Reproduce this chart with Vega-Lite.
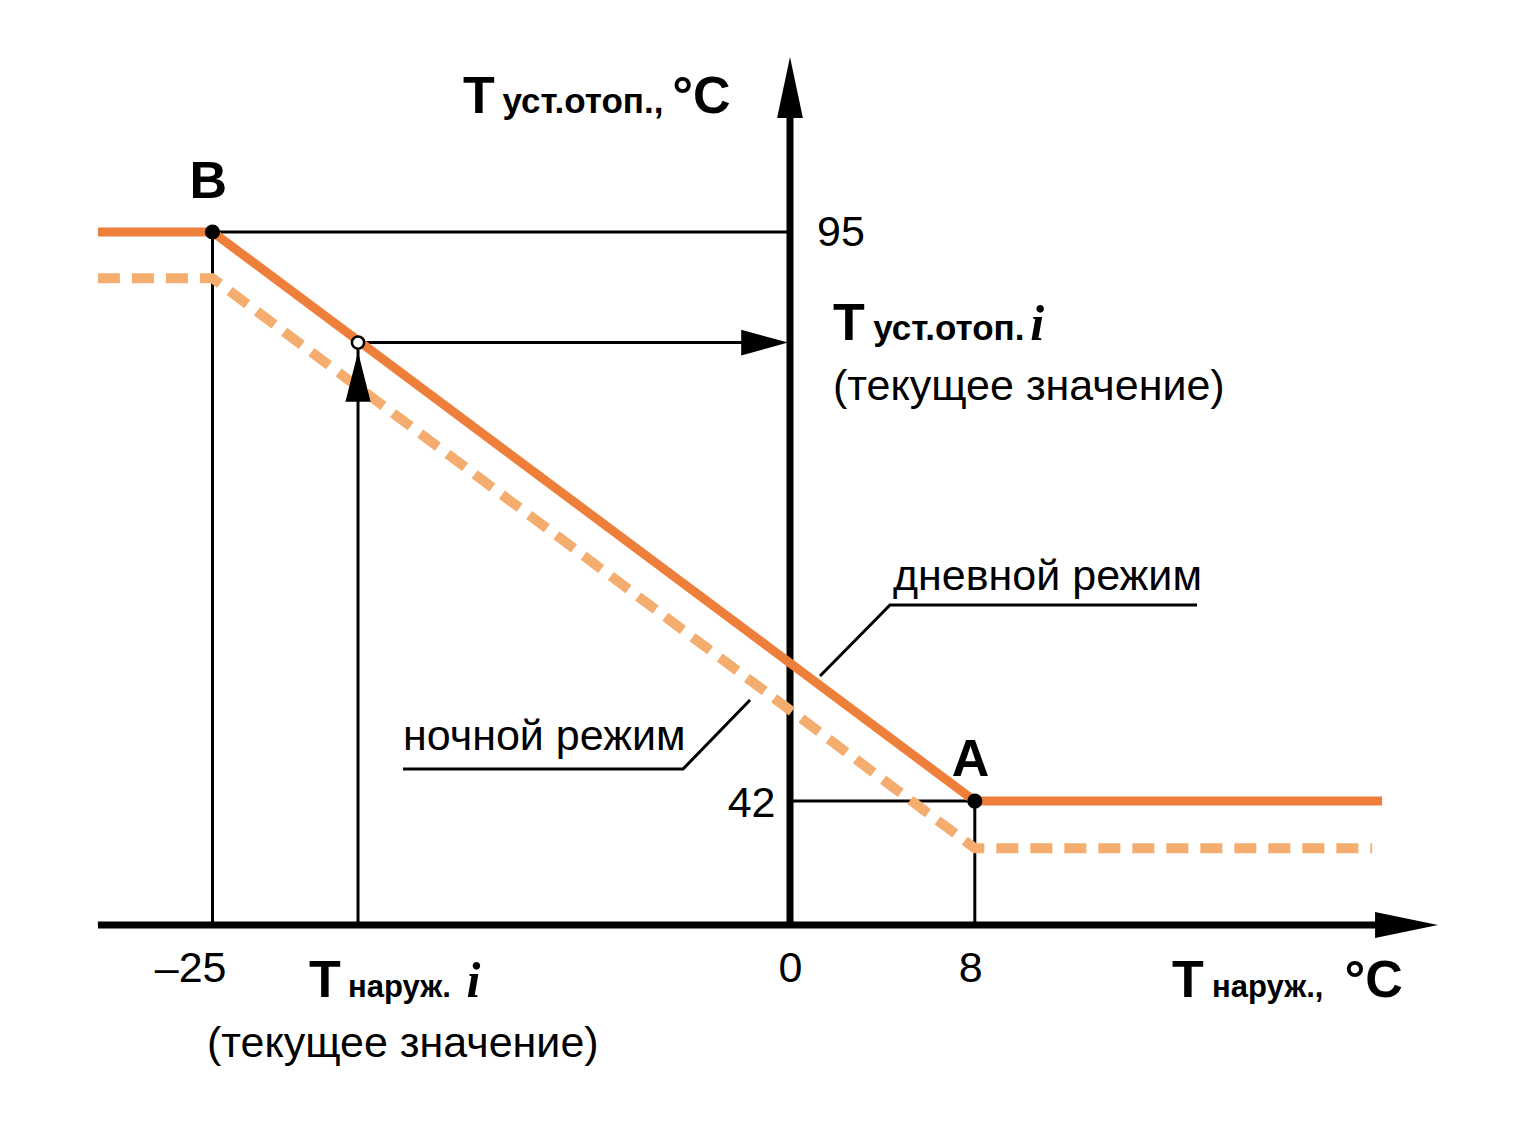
{
  "$schema": "https://vega.github.io/schema/vega-lite/v6.json",
  "width": 1536,
  "height": 1145,
  "autosize": {"type": "none"},
  "padding": 0,
  "background": "white",
  "config": {"view": {"stroke": null}},
  "datasets": {
    "axes": [
      {"s": "x", "i": 1, "t": -29.96, "v": 30.45},
      {"s": "x", "i": 2, "t": 26.7, "v": 30.45},
      {"s": "y", "i": 1, "t": 0, "v": 30.45},
      {"s": "y", "i": 2, "t": 0, "v": 108.4}
    ],
    "thin": [
      {"s": "b", "i": 1, "t": -25, "v": 30.45},
      {"s": "b", "i": 2, "t": -25, "v": 95},
      {"s": "b", "i": 3, "t": 0, "v": 95},
      {"s": "a", "i": 1, "t": 0, "v": 42},
      {"s": "a", "i": 2, "t": 8, "v": 42},
      {"s": "a", "i": 3, "t": 8, "v": 30.45},
      {"s": "cur", "i": 1, "t": -18.7, "v": 30.45},
      {"s": "cur", "i": 2, "t": -18.7, "v": 84.7},
      {"s": "cur", "i": 3, "t": -1.1, "v": 84.7},
      {"s": "day", "i": 1, "t": 17.62, "v": 60.26},
      {"s": "day", "i": 2, "t": 4.33, "v": 60.26},
      {"s": "day", "i": 3, "t": 1.3, "v": 53.64},
      {"s": "night", "i": 1, "t": -16.75, "v": 44.98},
      {"s": "night", "i": 2, "t": -4.63, "v": 44.98},
      {"s": "night", "i": 3, "t": -1.73, "v": 51.41}
    ],
    "night": [
      {"i": 1, "t": -29.96, "v": 90.7},
      {"i": 2, "t": -25, "v": 90.7},
      {"i": 3, "t": 8, "v": 37.6},
      {"i": 4, "t": 25.2, "v": 37.6}
    ],
    "day": [
      {"i": 1, "t": -29.96, "v": 95},
      {"i": 2, "t": -25, "v": 95},
      {"i": 3, "t": 8, "v": 42},
      {"i": 4, "t": 25.63, "v": 42}
    ],
    "arrows": [
      {"kind": "yaxis", "t": 0, "v": 108.46},
      {"kind": "xaxis", "t": 26.69, "v": 30.45},
      {"kind": "up", "t": -18.7, "v": 81.5},
      {"kind": "right", "t": -1.1, "v": 84.7}
    ],
    "dots": [
      {"name": "B", "t": -25, "v": 95},
      {"name": "A", "t": 8, "v": 42}
    ],
    "ring": [
      {"t": -18.7, "v": 84.7}
    ],
    "big": [
      {"label": "T", "t": -14.16, "v": 106.09},
      {"label": "°C", "t": -5.1, "v": 106.09},
      {"label": "T", "t": 1.86, "v": 84.94},
      {"label": "T", "t": -20.82, "v": 23.74},
      {"label": "T", "t": 16.54, "v": 23.74},
      {"label": "°C", "t": 24.0, "v": 23.74},
      {"label": "B", "t": -26.0, "v": 98.17},
      {"label": "A", "t": 7.0, "v": 44.33}
    ],
    "small": [
      {"label": "уст.отоп.,", "t": -12.45, "v": 106.09},
      {"label": "уст.отоп.", "t": 3.6, "v": 84.94}
    ],
    "smaller": [
      {"label": "наруж.", "t": -19.13, "v": 23.74},
      {"label": "наруж.,", "t": 18.27, "v": 23.74}
    ],
    "ital": [
      {"label": "i", "t": 10.4, "v": 84.94},
      {"label": "i", "t": -14.0, "v": 23.74}
    ],
    "reg": [
      {"label": "95", "t": 1.17, "v": 93.7},
      {"label": "42", "t": -2.7, "v": 40.51},
      {"label": "–25", "t": -27.5, "v": 25.14},
      {"label": "0", "t": -0.5, "v": 25.14},
      {"label": "8", "t": 7.3, "v": 25.14},
      {"label": "(текущее значение)", "t": 1.86, "v": 79.35},
      {"label": "(текущее значение)", "t": -25.24, "v": 18.15},
      {"label": "дневной режим", "t": 4.46, "v": 61.65},
      {"label": "ночной режим", "t": -16.75, "v": 46.75}
    ]
  },
  "encoding": {
    "x": {"field": "t", "type": "quantitative", "axis": null,
      "scale": {"domain": [-34.199, 32.294], "nice": false, "zero": false}},
    "y": {"field": "v", "type": "quantitative", "axis": null,
      "scale": {"domain": [9.96, 116.61], "nice": false, "zero": false}}
  },
  "layer": [
    {
      "data": {"name": "axes"},
      "mark": {"type": "line", "color": "black", "strokeWidth": 7},
      "encoding": {"detail": {"field": "s"}, "order": {"field": "i"}}
    },
    {
      "data": {"name": "thin"},
      "mark": {"type": "line", "color": "black", "strokeWidth": 3},
      "encoding": {"detail": {"field": "s"}, "order": {"field": "i"}}
    },
    {
      "data": {"name": "night"},
      "mark": {"type": "line", "color": "#F4AD6F", "strokeWidth": 10, "strokeDash": [22, 12]},
      "encoding": {"order": {"field": "i"}}
    },
    {
      "data": {"name": "day"},
      "mark": {"type": "line", "color": "#EE7F3B", "strokeWidth": 9},
      "encoding": {"order": {"field": "i"}}
    },
    {
      "data": {"name": "arrows"},
      "mark": {"type": "point", "filled": true, "color": "black", "opacity": 1, "size": 3600},
      "encoding": {
        "shape": {"field": "kind", "type": "nominal", "legend": null,
          "scale": {"domain": ["yaxis", "xaxis", "up", "right"],
            "range": ["M0,-1.02L-0.43,1.02L0.43,1.02Z", "M1.05,0L-1.05,-0.43L-1.05,0.43Z",
              "M0,-0.83L-0.42,0.83L0.42,0.83Z", "M0.78,0L-0.78,-0.43L-0.78,0.43Z"]}}
      }
    },
    {
      "data": {"name": "dots"},
      "mark": {"type": "circle", "color": "black", "opacity": 1, "size": 230}
    },
    {
      "data": {"name": "ring"},
      "mark": {"type": "point", "shape": "circle", "filled": true, "fill": "white", "stroke": "black", "strokeWidth": 2.5, "opacity": 1, "size": 150}
    },
    {
      "data": {"name": "big"},
      "mark": {"type": "text", "align": "left", "baseline": "alphabetic", "font": "Liberation Sans", "fontWeight": "bold", "fontSize": 52, "color": "black"},
      "encoding": {"text": {"field": "label"}}
    },
    {
      "data": {"name": "small"},
      "mark": {"type": "text", "align": "left", "baseline": "alphabetic", "font": "Liberation Sans", "fontWeight": "bold", "fontSize": 35, "color": "black"},
      "encoding": {"text": {"field": "label"}}
    },
    {
      "data": {"name": "smaller"},
      "mark": {"type": "text", "align": "left", "baseline": "alphabetic", "font": "Liberation Sans", "fontWeight": "bold", "fontSize": 31, "color": "black"},
      "encoding": {"text": {"field": "label"}}
    },
    {
      "data": {"name": "ital"},
      "mark": {"type": "text", "align": "left", "baseline": "alphabetic", "font": "Liberation Serif", "fontWeight": "bold", "fontStyle": "italic", "fontSize": 50, "color": "black"},
      "encoding": {"text": {"field": "label"}}
    },
    {
      "data": {"name": "reg"},
      "mark": {"type": "text", "align": "left", "baseline": "alphabetic", "font": "Liberation Sans", "fontSize": 43, "color": "black"},
      "encoding": {"text": {"field": "label"}}
    }
  ]
}
